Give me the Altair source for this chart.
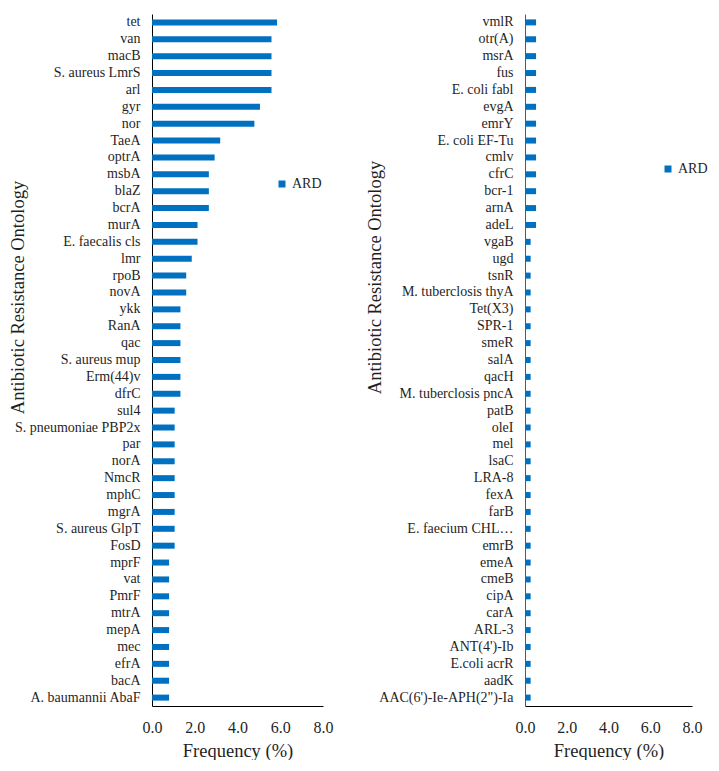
import altair as alt
import pandas as pd

left_genes = ["tet", "van", "macB", "S. aureus LmrS", "arl", "gyr", "nor", "TaeA", "optrA",
              "msbA", "blaZ", "bcrA", "murA", "E. faecalis cls", "lmr", "rpoB", "novA", "ykk",
              "RanA", "qac", "S. aureus mup", "Erm(44)v", "dfrC", "sul4", "S. pneumoniae PBP2x",
              "par", "norA", "NmcR", "mphC", "mgrA", "S. aureus GlpT", "FosD", "mprF", "vat",
              "PmrF", "mtrA", "mepA", "mec", "efrA", "bacA", "A. baumannii AbaF"]
left_freq = [5.85, 5.59, 5.59, 5.59, 5.59, 5.05, 4.79, 3.19, 2.93,
             2.66, 2.66, 2.66, 2.13, 2.13, 1.86, 1.60, 1.60, 1.33,
             1.33, 1.33, 1.33, 1.33, 1.33, 1.06, 1.06,
             1.06, 1.06, 1.06, 1.06, 1.06, 1.06, 1.06, 0.80, 0.80,
             0.80, 0.80, 0.80, 0.80, 0.80, 0.80, 0.80]

right_genes = ["vmlR", "otr(A)", "msrA", "fus", "E. coli fabl", "evgA", "emrY", "E. coli EF-Tu",
               "cmlv", "cfrC", "bcr-1", "arnA", "adeL", "vgaB", "ugd", "tsnR",
               "M. tuberclosis thyA", "Tet(X3)", "SPR-1", "smeR", "salA", "qacH",
               "M. tuberclosis pncA", "patB", "oleI", "mel", "lsaC", "LRA-8", "fexA", "farB",
               "E. faecium CHL\u2026", "emrB", "emeA", "cmeB", "cipA", "carA", "ARL-3",
               "ANT(4')-Ib", "E.coli acrR", "aadK", "AAC(6')-Ie-APH(2\")-Ia"]
right_freq = [0.53] * 13 + [0.27] * 28

series_name = "ARD"
x_ticks = [0, 2, 4, 6, 8]

FONT = "Liberation Serif"
TXT = "#1f1f1f"
BLUE = "#0070C0"

left_df = pd.DataFrame({"gene": left_genes, "freq": left_freq, "series": series_name})
right_df = pd.DataFrame({"gene": right_genes, "freq": right_freq, "series": series_name})


def panel(df, genes, width, title_x, title_y, y_domain_color, legend_x, legend_y):
    return alt.Chart(df).mark_bar().encode(
        x=alt.X("freq:Q",
                scale=alt.Scale(domain=[0, 8], nice=False),
                axis=alt.Axis(title="Frequency (%)", values=x_ticks, format=".1f",
                              grid=False, ticks=False, domainColor="#000000",
                              labelFlush=False, labelOverlap=False,
                              labelFontSize=16, labelPadding=13, labelColor=TXT,
                              labelFont=FONT, titleFont=FONT, titleFontSize=18.5,
                              titleFontWeight="normal", titleColor=TXT, titlePadding=6)),
        y=alt.Y("gene:N", sort=genes,
                scale=alt.Scale(paddingInner=0.645, paddingOuter=0.32),
                axis=alt.Axis(title="Antibiotic Resistance Ontology", grid=False, ticks=False,
                              domainColor=y_domain_color, labelFontSize=14, labelFont=FONT,
                              labelColor=TXT, labelPadding=12, labelLimit=300,
                              titleFont=FONT, titleFontSize=18.5, titleFontWeight="normal",
                              titleColor=TXT, titleX=title_x, titleY=title_y)),
        color=alt.Color("series:N", scale=alt.Scale(range=[BLUE]),
                        legend=alt.Legend(title=None, orient="none", legendX=legend_x,
                                          legendY=legend_y, symbolType="square",
                                          symbolSize=49, labelFont=FONT, labelFontSize=14,
                                          labelColor=TXT, labelOffset=3, padding=0,
                                          symbolStrokeWidth=0)),
    ).properties(width=width, height=692)


left = panel(left_df, left_genes, 171, -125, 283, "#000000", 123, 163)
right = panel(right_df, right_genes, 167, -141, 263, "#595959", 136, 148)

chart = alt.hconcat(left, right, spacing=31).resolve_scale(
    color="independent").resolve_legend(color="independent").properties(
    padding={"left": 0, "top": 6, "right": 0, "bottom": 0}
).configure_view(stroke=None).configure_axis(domainWidth=1)

chart.save("out.html", embed_options={"renderer": "svg", "actions": False})
